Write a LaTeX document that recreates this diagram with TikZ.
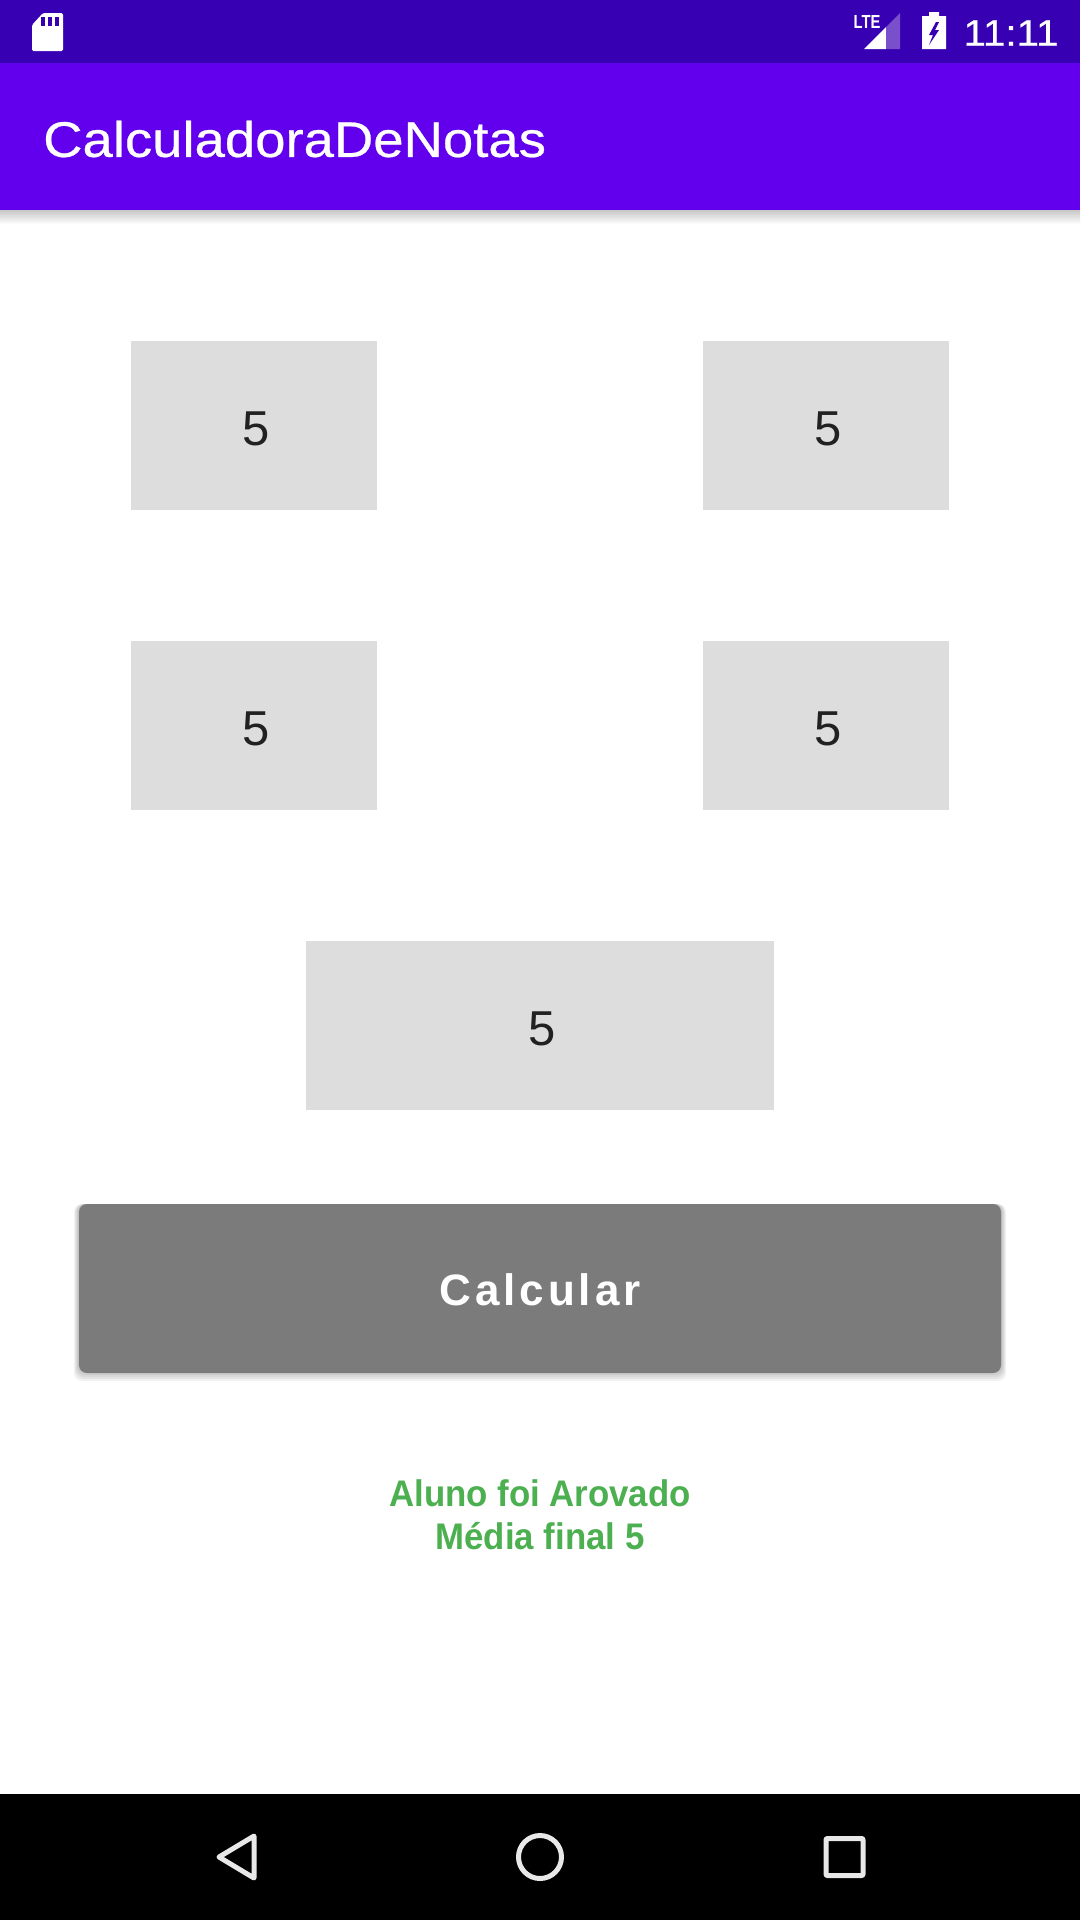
\documentclass[tikz,border=0pt]{standalone}
\usepackage{fontspec}
\setmainfont{Liberation Sans}
\newfontfamily\spacedfont[LetterSpace=9]{Liberation Sans}
\newfontfamily\mediumfont[FakeBold=0.5,FakeStretch=1.09]{Liberation Sans}
\usepackage{tikz}
\definecolor{barpurple}{HTML}{6200EE}
\definecolor{statuspurple}{HTML}{3700B3}
\definecolor{signalpurple}{HTML}{7A4FCB}
\definecolor{boxgray}{HTML}{DDDDDD}
\definecolor{buttongray}{HTML}{7B7B7B}
\definecolor{passgreen}{HTML}{4CAF50}
\definecolor{navwhite}{HTML}{E8E8E8}
\tikzset{
  notebox/.style={fill=boxgray,inner sep=0pt,minimum height=169pt,text=black!87,text height=41pt,
    font=\fontsize{49}{56}\selectfont,execute at begin node=\hspace*{5pt}},
  navicon/.style={draw=navwhite,line width=5pt,line join=round},
}
\begin{document}
\begin{tikzpicture}[x=1pt,y=-1pt]
\useasboundingbox (0,0) rectangle (1080,1920);
\fill[white] (0,0) rectangle (1080,1920);
% bars
\shade[top color=black!22,bottom color=white] (0,210) rectangle (1080,224);
\fill[statuspurple] (0,0) rectangle (1080,63);
\fill[barpurple] (0,63) rectangle (1080,210);
\fill[black] (0,1794) rectangle (1080,1920);
\node[anchor=west,inner sep=0pt,text=white,font=\mediumfont\fontsize{50}{58}\selectfont] (title) at (43,139) {CalculadoraDeNotas};
% status icons
\fill[white,rounded corners=1.5pt] (32,25) -- (43,13) -- (63,13) -- (63,51) -- (32,51) -- cycle;
\foreach \x in {43,50,57} \fill[statuspurple] (\x-2,17) rectangle (\x+2,26);
\node[inner sep=0pt,text=white,font=\bfseries\fontsize{18}{18}\selectfont,xscale=.82,yscale=1.05] (lte) at (867,22) {LTE};
\fill[white] (864,49) -- (886,27) -- (886,49) -- cycle;
\fill[signalpurple] (886,27) -- (900,13) -- (900,49) -- (886,49) -- cycle;
\fill[white] (922,16) -- (929,16) -- (929,12) -- (939,12) -- (939,16) -- (946,16) -- (946,49) -- (922,49) -- cycle;
\fill[statuspurple] (936,22) -- (929,35) -- (933,35) -- (929,45) -- (939,30) -- (935,30) -- (939,22) -- cycle;
\node[inner sep=0pt,text=white,font=\mediumfont\fontsize{37}{42}\selectfont] (clock) at (1011,33) {11:11};
% note fields
\node[notebox,minimum width=246pt] (noteA) at (254,425.5) {5};
\node[notebox,minimum width=246pt] (noteB) at (826,425.5) {5};
\node[notebox,minimum width=246pt] (noteC) at (254,725.5) {5};
\node[notebox,minimum width=246pt] (noteD) at (826,725.5) {5};
\node[notebox,minimum width=468pt] (noteE) at (540,1025.5) {5};
% button
\foreach \d in {2,4,6,8,10} \fill[black,opacity=.05,rounded corners=8pt] (79-\d/2,1204) rectangle (1001+\d/2,1371+\d);
\node[fill=buttongray,rounded corners=8pt,inner sep=0pt,minimum width=922pt,minimum height=169pt,text=white,
  font=\spacedfont\bfseries\fontsize{44}{50}\selectfont,text height=34pt] (calcular) at (540,1288.5) {Calcular};
\node[align=center,inner sep=0pt,text=passgreen,xscale=.94,font=\bfseries\fontsize{37}{43}\selectfont] (result) at (540,1515) {Aluno foi Arovado\\Média final 5};
% nav icons
\draw[navicon] (254,1836) -- (254,1878) -- (219,1857) -- cycle;
\draw[navicon] (540,1857) circle (21.5);
\draw[navicon,rounded corners=1pt] (826,1838.5) rectangle (863,1875.5);
\end{tikzpicture}
\end{document}
